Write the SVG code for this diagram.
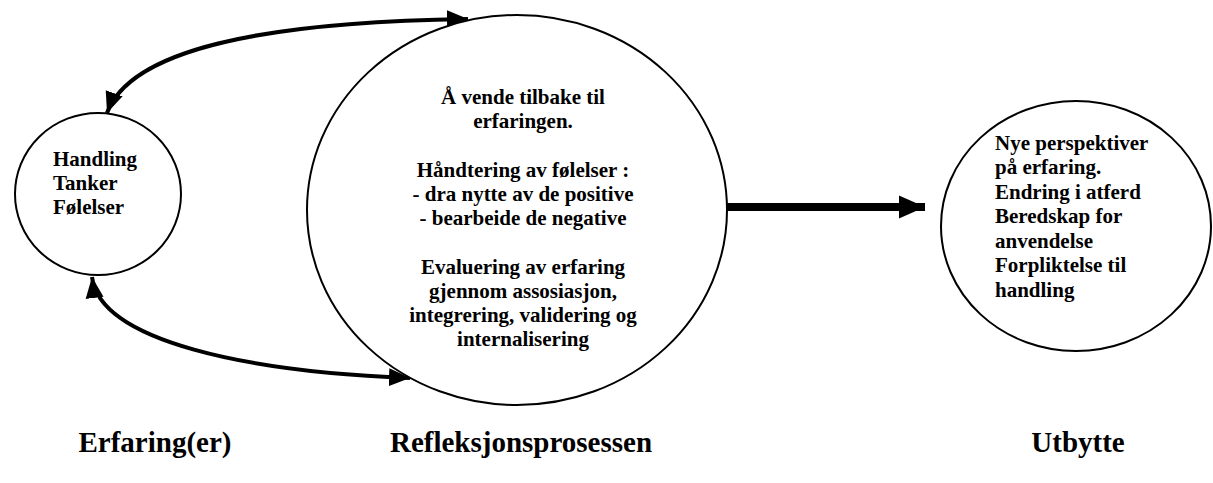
<svg xmlns="http://www.w3.org/2000/svg" width="1213" height="483" viewBox="0 0 1213 483">
  <defs>
    <style>
      .node { fill: #ffffff; stroke: #000000; stroke-width: 2; }
      .txt { font-family: "Liberation Serif", "Times New Roman", serif; font-weight: bold; font-size: 21px; fill: #000000; }
      .mid { text-anchor: middle; }
      .label { font-family: "Liberation Serif", "Times New Roman", serif; font-weight: bold; font-size: 29px; fill: #000000; text-anchor: middle; }
      .curve { fill: none; stroke: #000000; stroke-width: 4; }
      .thick { fill: none; stroke: #000000; stroke-width: 8; }
    </style>
    <marker id="head" viewBox="0 0 22 20" refX="21" refY="10" markerWidth="22" markerHeight="20" markerUnits="userSpaceOnUse" orient="auto-start-reverse">
      <path d="M0,1 L21,10 L0,19 z" fill="#000000"/>
    </marker>
    <marker id="bighead" viewBox="0 0 26 24" refX="26" refY="12" markerWidth="26" markerHeight="24" markerUnits="userSpaceOnUse" orient="auto">
      <path d="M0,0.5 L26,12 L0,23.5 z" fill="#000000"/>
    </marker>
  </defs>

  <!-- connectors -->
  <g id="connectors">
    <path class="curve" d="M107,113 C130,50 260,22 468,19" marker-start="url(#head)" marker-end="url(#head)"/>
    <path class="curve" d="M92,277 C100,342 250,372 410,378" marker-start="url(#head)" marker-end="url(#head)"/>
    <path class="thick" d="M727,207 L925,207" marker-end="url(#bighead)"/>
  </g>

  <!-- experience -->
  <g id="erfaring">
    <ellipse class="node" cx="98" cy="194" rx="83" ry="81"/>
    <text class="txt" x="53" y="166">Handling</text>
    <text class="txt" x="53" y="190">Tanker</text>
    <text class="txt" x="53" y="214">Følelser</text>
  </g>

  <!-- reflection process -->
  <g id="refleksjon">
    <ellipse class="node" cx="517" cy="210" rx="210" ry="195"/>
    <text class="txt mid" x="523" y="104">Å vende tilbake til</text>
    <text class="txt mid" x="523" y="128">erfaringen.</text>
    <text class="txt mid" x="523" y="177">Håndtering av følelser :</text>
    <text class="txt mid" x="523" y="201">- dra nytte av de positive</text>
    <text class="txt mid" x="523" y="225">- bearbeide de negative</text>
    <text class="txt mid" x="523" y="274">Evaluering av erfaring</text>
    <text class="txt mid" x="523" y="298">gjennom assosiasjon,</text>
    <text class="txt mid" x="523" y="322">integrering, validering og</text>
    <text class="txt mid" x="523" y="346">internalisering</text>
  </g>

  <!-- outcome -->
  <g id="utbytte">
    <ellipse class="node" cx="1076" cy="226" rx="135" ry="125"/>
    <text class="txt" x="995" y="150">Nye perspektiver</text>
    <text class="txt" x="995" y="174">på erfaring.</text>
    <text class="txt" x="995" y="199">Endring i atferd</text>
    <text class="txt" x="995" y="223">Beredskap for</text>
    <text class="txt" x="995" y="248">anvendelse</text>
    <text class="txt" x="995" y="272">Forpliktelse til</text>
    <text class="txt" x="995" y="297">handling</text>
  </g>

  <!-- column captions -->
  <g id="captions">
    <text class="label" x="155" y="452">Erfaring(er)</text>
    <text class="label" x="521" y="452">Refleksjonsprosessen</text>
    <text class="label" x="1078" y="452">Utbytte</text>
  </g>
</svg>
